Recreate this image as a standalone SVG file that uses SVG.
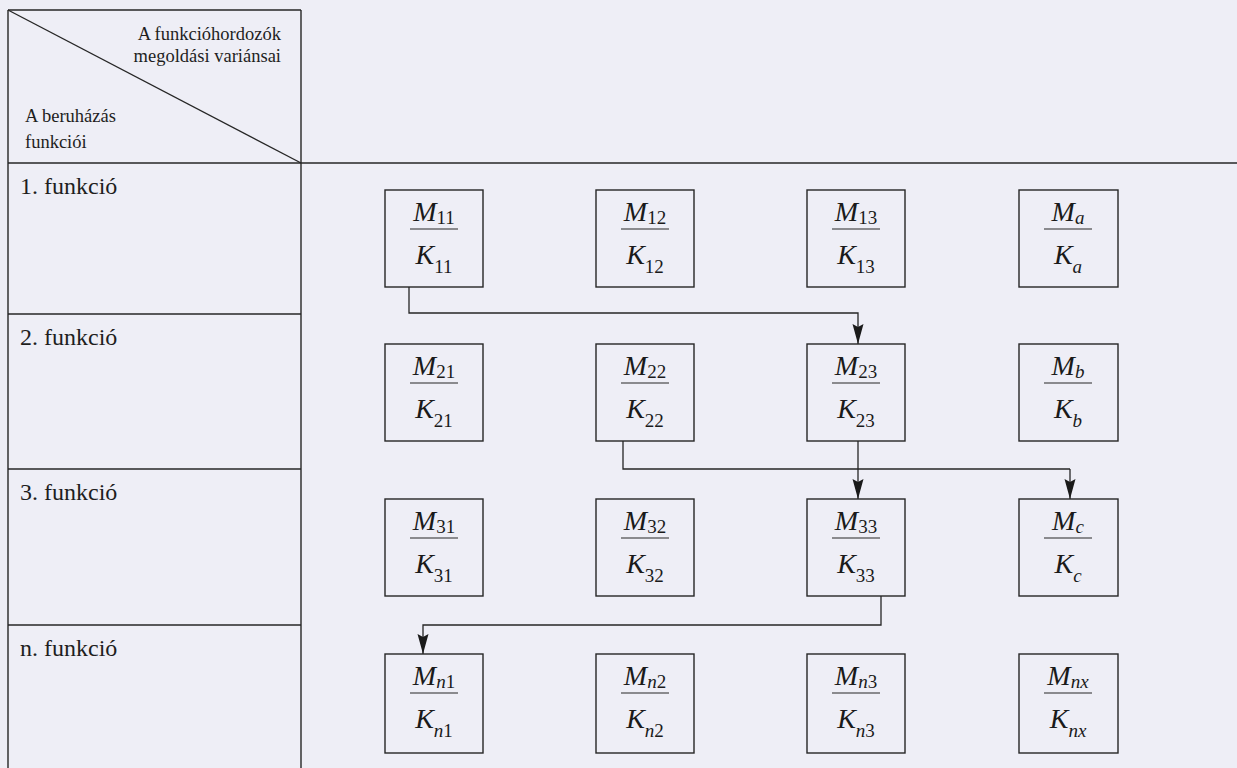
<svg xmlns="http://www.w3.org/2000/svg" width="1237" height="768" viewBox="0 0 1237 768">
<defs>
<style>
.bg{fill:#eeeef6}
.ln{stroke:#262626;stroke-width:1.4;fill:none}
.bx{stroke:#262626;stroke-width:1.4;fill:none}
.hd{font-family:"Liberation Serif","Times New Roman",serif;font-size:18.5px;fill:#1e1e1e}
.rl{font-family:"Liberation Serif","Times New Roman",serif;font-size:24px;fill:#1e1e1e}
.m{font-family:"Liberation Serif","Times New Roman",serif;font-size:28px;font-style:italic;fill:#1a1a1a}
.s{font-size:19px;font-style:normal}
.si{font-size:19px;font-style:italic}
.fr{stroke:#262626;stroke-width:1.2}
.cn{stroke:#262626;stroke-width:1.3;fill:none;marker-end:url(#ah)}
.cp{stroke:#262626;stroke-width:1.3;fill:none}
</style>
<marker id="ah" markerUnits="userSpaceOnUse" viewBox="0 -6 22 12" refX="20" refY="0" markerWidth="22" markerHeight="12" orient="auto">
<path d="M0,-5.5 L20,0 L0,5.5 L3,0 z" fill="#1a1a1a"/>
</marker>
</defs>
<rect class="bg" x="0" y="0" width="1237" height="768"/>

<g id="table">
<line class="ln" x1="8" y1="10" x2="8" y2="768"/>
<line class="ln" x1="301" y1="10" x2="301" y2="768"/>
<line class="ln" x1="8" y1="10" x2="301" y2="10"/>
<line class="ln" x1="8" y1="10" x2="301" y2="163"/>
<line class="ln" x1="8" y1="163" x2="1237" y2="163"/>
<line class="ln" x1="8" y1="314" x2="301" y2="314"/>
<line class="ln" x1="8" y1="469" x2="301" y2="469"/>
<line class="ln" x1="8" y1="625" x2="301" y2="625"/>
<text class="hd" x="281" y="40" text-anchor="end">A funkcióhordozók</text>
<text class="hd" x="281" y="62" text-anchor="end">megoldási variánsai</text>
<text class="hd" x="25" y="122">A beruházás</text>
<text class="hd" x="25" y="148">funkciói</text>
<text class="rl" x="20" y="194">1. funkció</text>
<text class="rl" x="20" y="345">2. funkció</text>
<text class="rl" x="20" y="500">3. funkció</text>
<text class="rl" x="20" y="656">n. funkció</text>
</g>

<g id="connectors">
<polyline class="cn" points="409,287 409,313 858,313 858,344"/>
<polyline class="cp" points="623,441 623,469 1070,469"/>
<line class="cn" x1="1070" y1="469" x2="1070" y2="499"/>
<line class="cn" x1="858" y1="441" x2="858" y2="499"/>
<polyline class="cn" points="881,596 881,625 423,625 423,654"/>
</g>

<g id="n11"><rect class="bx" x="385" y="190" width="98" height="97"/><text class="m" x="434" y="221" text-anchor="middle">M<tspan class="s" dy="3">11</tspan></text><line class="fr" x1="410" y1="229" x2="458" y2="229"/><text class="m" x="434" y="264" text-anchor="middle">K<tspan class="s" dy="9">11</tspan></text></g>
<g id="n12"><rect class="bx" x="596" y="190" width="98" height="97"/><text class="m" x="645" y="221" text-anchor="middle">M<tspan class="s" dy="3">12</tspan></text><line class="fr" x1="621" y1="229" x2="669" y2="229"/><text class="m" x="645" y="264" text-anchor="middle">K<tspan class="s" dy="9">12</tspan></text></g>
<g id="n13"><rect class="bx" x="807" y="190" width="98" height="97"/><text class="m" x="856" y="221" text-anchor="middle">M<tspan class="s" dy="3">13</tspan></text><line class="fr" x1="832" y1="229" x2="880" y2="229"/><text class="m" x="856" y="264" text-anchor="middle">K<tspan class="s" dy="9">13</tspan></text></g>
<g id="na"><rect class="bx" x="1019" y="190" width="99" height="97"/><text class="m" x="1068" y="221" text-anchor="middle">M<tspan class="si" dy="3">a</tspan></text><line class="fr" x1="1044" y1="229" x2="1092" y2="229"/><text class="m" x="1068" y="264" text-anchor="middle">K<tspan class="si" dy="9">a</tspan></text></g>

<g id="n21"><rect class="bx" x="385" y="344" width="98" height="97"/><text class="m" x="434" y="375" text-anchor="middle">M<tspan class="s" dy="3">21</tspan></text><line class="fr" x1="410" y1="383" x2="458" y2="383"/><text class="m" x="434" y="418" text-anchor="middle">K<tspan class="s" dy="9">21</tspan></text></g>
<g id="n22"><rect class="bx" x="596" y="344" width="98" height="97"/><text class="m" x="645" y="375" text-anchor="middle">M<tspan class="s" dy="3">22</tspan></text><line class="fr" x1="621" y1="383" x2="669" y2="383"/><text class="m" x="645" y="418" text-anchor="middle">K<tspan class="s" dy="9">22</tspan></text></g>
<g id="n23"><rect class="bx" x="807" y="344" width="98" height="97"/><text class="m" x="856" y="375" text-anchor="middle">M<tspan class="s" dy="3">23</tspan></text><line class="fr" x1="832" y1="383" x2="880" y2="383"/><text class="m" x="856" y="418" text-anchor="middle">K<tspan class="s" dy="9">23</tspan></text></g>
<g id="nb"><rect class="bx" x="1019" y="344" width="99" height="97"/><text class="m" x="1068" y="375" text-anchor="middle">M<tspan class="si" dy="3">b</tspan></text><line class="fr" x1="1044" y1="383" x2="1092" y2="383"/><text class="m" x="1068" y="418" text-anchor="middle">K<tspan class="si" dy="9">b</tspan></text></g>

<g id="n31"><rect class="bx" x="385" y="499" width="98" height="97"/><text class="m" x="434" y="530" text-anchor="middle">M<tspan class="s" dy="3">31</tspan></text><line class="fr" x1="410" y1="538" x2="458" y2="538"/><text class="m" x="434" y="573" text-anchor="middle">K<tspan class="s" dy="9">31</tspan></text></g>
<g id="n32"><rect class="bx" x="596" y="499" width="98" height="97"/><text class="m" x="645" y="530" text-anchor="middle">M<tspan class="s" dy="3">32</tspan></text><line class="fr" x1="621" y1="538" x2="669" y2="538"/><text class="m" x="645" y="573" text-anchor="middle">K<tspan class="s" dy="9">32</tspan></text></g>
<g id="n33"><rect class="bx" x="807" y="499" width="98" height="97"/><text class="m" x="856" y="530" text-anchor="middle">M<tspan class="s" dy="3">33</tspan></text><line class="fr" x1="832" y1="538" x2="880" y2="538"/><text class="m" x="856" y="573" text-anchor="middle">K<tspan class="s" dy="9">33</tspan></text></g>
<g id="nc"><rect class="bx" x="1019" y="499" width="99" height="97"/><text class="m" x="1068" y="530" text-anchor="middle">M<tspan class="si" dy="3">c</tspan></text><line class="fr" x1="1044" y1="538" x2="1092" y2="538"/><text class="m" x="1068" y="573" text-anchor="middle">K<tspan class="si" dy="9">c</tspan></text></g>

<g id="nn1"><rect class="bx" x="385" y="654" width="98" height="99"/><text class="m" x="434" y="685" text-anchor="middle">M<tspan class="si" dy="3">n</tspan><tspan class="s">1</tspan></text><line class="fr" x1="410" y1="693" x2="458" y2="693"/><text class="m" x="434" y="728" text-anchor="middle">K<tspan class="si" dy="9">n</tspan><tspan class="s">1</tspan></text></g>
<g id="nn2"><rect class="bx" x="596" y="654" width="98" height="99"/><text class="m" x="645" y="685" text-anchor="middle">M<tspan class="si" dy="3">n</tspan><tspan class="s">2</tspan></text><line class="fr" x1="621" y1="693" x2="669" y2="693"/><text class="m" x="645" y="728" text-anchor="middle">K<tspan class="si" dy="9">n</tspan><tspan class="s">2</tspan></text></g>
<g id="nn3"><rect class="bx" x="807" y="654" width="98" height="99"/><text class="m" x="856" y="685" text-anchor="middle">M<tspan class="si" dy="3">n</tspan><tspan class="s">3</tspan></text><line class="fr" x1="832" y1="693" x2="880" y2="693"/><text class="m" x="856" y="728" text-anchor="middle">K<tspan class="si" dy="9">n</tspan><tspan class="s">3</tspan></text></g>
<g id="nnx"><rect class="bx" x="1019" y="654" width="99" height="99"/><text class="m" x="1068" y="685" text-anchor="middle">M<tspan class="si" dy="3">nx</tspan></text><line class="fr" x1="1044" y1="693" x2="1092" y2="693"/><text class="m" x="1068" y="728" text-anchor="middle">K<tspan class="si" dy="9">nx</tspan></text></g>
</svg>
